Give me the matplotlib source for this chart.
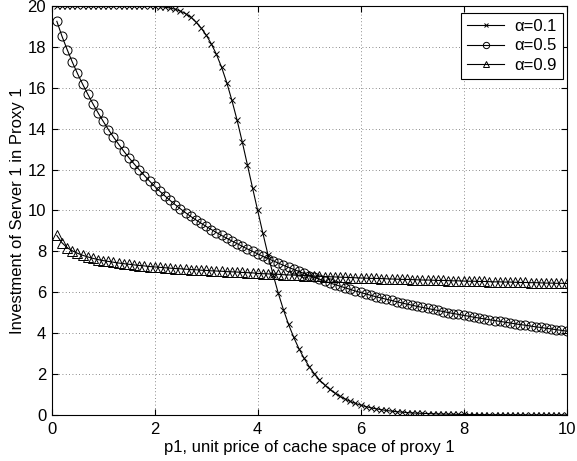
import numpy as np
import matplotlib
matplotlib.use("Agg")
import matplotlib.pyplot as plt

plt.rcParams["font.family"] = ["Liberation Sans", "DejaVu Sans"]

p1 = np.round(np.arange(1, 101) * 0.1, 1)

inv_a01 = [
    20.00, 20.00, 20.00, 20.00, 20.00, 20.00, 20.00, 20.00, 20.00, 20.00,
    20.00, 20.00, 20.00, 20.00, 20.00, 20.00, 20.00, 20.00, 19.99, 19.99,
    19.97, 19.94, 19.90, 19.84, 19.75, 19.62, 19.46, 19.22, 18.93, 18.58,
    18.15, 17.63, 17.00, 16.25, 15.38, 14.42, 13.36, 12.24, 11.11, 10.00,
    8.90, 7.84, 6.86, 5.96, 5.15, 4.43, 3.80, 3.25, 2.78, 2.37,
    2.02, 1.72, 1.47, 1.25, 1.07, 0.91, 0.78, 0.66, 0.57, 0.48,
    0.41, 0.35, 0.30, 0.26, 0.22, 0.19, 0.16, 0.14, 0.12, 0.10,
    0.09, 0.08, 0.07, 0.06, 0.05, 0.045, 0.04, 0.035, 0.03, 0.026,
    0.023, 0.020, 0.018, 0.016, 0.014, 0.012, 0.011, 0.010, 0.009, 0.008,
    0.007, 0.006, 0.006, 0.005, 0.005, 0.004, 0.004, 0.003, 0.003, 0.003,
]

inv_a05 = [
    19.25, 18.52, 17.87, 17.26, 16.70, 16.18, 15.69, 15.22, 14.78, 14.36,
    13.96, 13.59, 13.24, 12.90, 12.58, 12.28, 11.99, 11.71, 11.44, 11.18,
    10.94, 10.71, 10.49, 10.28, 10.08, 9.89, 9.71, 9.54, 9.38, 9.22,
    9.07, 8.92, 8.78, 8.64, 8.51, 8.38, 8.25, 8.12, 8.00, 7.88,
    7.76, 7.65, 7.54, 7.43, 7.32, 7.22, 7.12, 7.02, 6.92, 6.82,
    6.73, 6.64, 6.55, 6.46, 6.38, 6.30, 6.22, 6.14, 6.06, 5.99,
    5.92, 5.85, 5.78, 5.72, 5.66, 5.60, 5.54, 5.48, 5.42, 5.37,
    5.31, 5.26, 5.21, 5.16, 5.11, 5.06, 5.01, 4.96, 4.92, 4.87,
    4.83, 4.78, 4.74, 4.70, 4.66, 4.62, 4.58, 4.54, 4.50, 4.46,
    4.42, 4.39, 4.35, 4.31, 4.28, 4.24, 4.21, 4.17, 4.14, 4.10,
]

inv_a09 = [
    8.78, 8.42, 8.18, 8.03, 7.91, 7.81, 7.73, 7.66, 7.60, 7.55,
    7.51, 7.47, 7.43, 7.40, 7.37, 7.34, 7.31, 7.29, 7.26, 7.24,
    7.22, 7.20, 7.18, 7.16, 7.15, 7.13, 7.11, 7.10, 7.08, 7.07,
    7.05, 7.04, 7.03, 7.01, 7.00, 6.99, 6.97, 6.96, 6.95, 6.92,
    6.91, 6.90, 6.89, 6.88, 6.86, 6.85, 6.84, 6.83, 6.82, 6.80,
    6.79, 6.78, 6.77, 6.76, 6.75, 6.74, 6.73, 6.72, 6.71, 6.70,
    6.69, 6.68, 6.68, 6.67, 6.66, 6.65, 6.64, 6.63, 6.63, 6.62,
    6.61, 6.60, 6.60, 6.59, 6.58, 6.58, 6.57, 6.56, 6.56, 6.55,
    6.54, 6.54, 6.53, 6.53, 6.52, 6.51, 6.51, 6.50, 6.50, 6.49,
    6.48, 6.48, 6.47, 6.47, 6.46, 6.45, 6.45, 6.44, 6.44, 6.43,
]

labels = ["α=0.1", "α=0.5", "α=0.9"]

FS = 12

# ── figure ──
fig = plt.figure(figsize=(5.77, 4.61), dpi=100)
ax = fig.add_axes([0.0896, 0.0998, 0.8924, 0.8872])

ax.plot(p1, inv_a01, color="k", lw=0.8, marker="x", ms=4, mew=0.7, label=labels[0])
ax.plot(p1, inv_a05, color="k", lw=0.8, marker="o", ms=6.5, mfc="none", mew=0.7, label=labels[1])
ax.plot(p1, inv_a09, color="k", lw=0.8, marker="^", ms=6.5, mfc="none", mew=0.7, label=labels[2])

ax.set_xlim(0, 10)
ax.set_ylim(0, 20)
ax.set_xticks(range(0, 11, 2))
ax.set_yticks(range(0, 21, 2))
ax.grid(True, color="0.4", linestyle=(0, (1, 3)), lw=0.6)
ax.tick_params(direction="in", top=True, right=True, labelsize=FS, length=4)
ax.tick_params(axis="x", pad=5)
ax.tick_params(axis="y", pad=4)
for s in ax.spines.values():
    s.set_linewidth(0.8)

ax.set_xlabel("p1, unit price of cache space of proxy 1", fontsize=FS, labelpad=2)
ax.set_ylabel("Investment of Server 1 in Proxy 1", fontsize=FS, labelpad=2)

leg = ax.legend(loc="upper right", bbox_to_anchor=(0.993, 0.984), borderaxespad=0,
                fontsize=FS, fancybox=False, framealpha=1, edgecolor="k",
                handlelength=2.2, handletextpad=0.6, labelspacing=0.25,
                markerscale=0.7, borderpad=0.4)
leg.get_frame().set_linewidth(0.8)

fig.savefig("out.png", dpi=100)
